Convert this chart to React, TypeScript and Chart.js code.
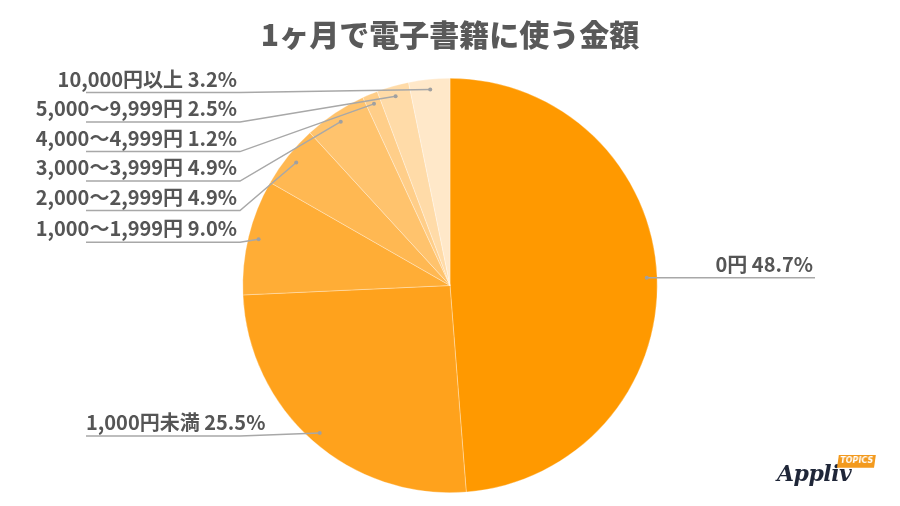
import React, { useEffect, useRef } from "react";
import { Chart, registerables } from "chart.js";

Chart.register(...registerables);

const TITLE = "1ヶ月で電子書籍に使う金額";
const categories = [
  "0円",
  "1,000円未満",
  "1,000〜1,999円",
  "2,000〜2,999円",
  "3,000〜3,999円",
  "4,000〜4,999円",
  "5,000〜9,999円",
  "10,000円以上",
];
const values = [48.7, 25.5, 9.0, 4.9, 4.9, 1.2, 2.5, 3.2];
const colors = [
  "#FF9900",
  "#FFA21C",
  "#FFAD36",
  "#FFB852",
  "#FFC36D",
  "#FFCE89",
  "#FFDBA8",
  "#FFE8C9",
];

const FONT = '"Noto Sans CJK JP", "Noto Sans", sans-serif';

const labelPlugin = {
  id: "pieLabels",
  afterDatasetsDraw(chart: any) {
    const ctx = chart.ctx;
    const meta = chart.getDatasetMeta(0);
    const items: any[] = [];
    let cy = 0;
    meta.data.forEach((arc: any, i: number) => {
      const p = arc.getProps(["x", "y", "startAngle", "endAngle", "outerRadius"], true);
      cy = p.y;
      const mid = (p.startAngle + p.endAngle) / 2;
      const r = p.outerRadius * 0.95;
      const ax = p.x + Math.cos(mid) * r;
      const ay = p.y + Math.sin(mid) * r;
      items.push({
        i,
        ax,
        ay,
        side: Math.cos(mid) >= 0 ? "right" : "left",
        text: `${categories[i]} ${values[i].toFixed(1)}%`,
      });
    });
    const left = items.filter((d) => d.side === "left").sort((a, b) => a.ay - b.ay);
    const right = items.filter((d) => d.side === "right").sort((a, b) => a.ay - b.ay);
    const gap = 29.5;
    let prev = -Infinity;
    left.forEach((d) => {
      d.ly = Math.max(d.ay + 3, prev + gap);
      prev = d.ly;
    });
    prev = -Infinity;
    right.forEach((d) => {
      d.ly = Math.max(d.ay, prev + gap);
      prev = d.ly;
    });

    ctx.save();
    ctx.strokeStyle = "#a8a8a8";
    ctx.lineWidth = 1.5;
    ctx.font = `bold 20px ${FONT}`;
    const leftStart = 86;
    const leftElbow = 240;
    const rightEnd = 815;
    for (const d of left) {
      ctx.beginPath();
      ctx.moveTo(d.ax, d.ay);
      if (d.ax > leftElbow) ctx.lineTo(leftElbow, d.ly);
      ctx.lineTo(leftStart, d.ly);
      ctx.stroke();
      ctx.beginPath();
      ctx.arc(d.ax, d.ay, 2, 0, Math.PI * 2);
      ctx.fillStyle = "#a0a0a0";
      ctx.fill();
      ctx.fillStyle = "#555555";
      ctx.textBaseline = "alphabetic";
      if (d.ay > cy) {
        ctx.textAlign = "left";
        ctx.fillText(d.text, leftStart, d.ly - 6);
      } else {
        ctx.textAlign = "right";
        ctx.fillText(d.text, leftElbow - 3, d.ly - 6);
      }
    }
    for (const d of right) {
      ctx.beginPath();
      ctx.moveTo(d.ax, d.ay);
      ctx.lineTo(d.ax + 10, d.ly);
      ctx.lineTo(rightEnd, d.ly);
      ctx.stroke();
      ctx.beginPath();
      ctx.arc(d.ax, d.ay, 2, 0, Math.PI * 2);
      ctx.fillStyle = "#a0a0a0";
      ctx.fill();
      ctx.fillStyle = "#555555";
      ctx.textAlign = "right";
      ctx.textBaseline = "alphabetic";
      ctx.fillText(d.text, rightEnd - 2, d.ly - 6);
    }
    // title
    ctx.fillStyle = "#595959";
    ctx.font = `900 30px ${FONT}`;
    ctx.textAlign = "center";
    ctx.textBaseline = "middle";
    ctx.fillText(TITLE, chart.width / 2, 35);
    ctx.restore();
  },
};

export default function App() {
  const ref = useRef<HTMLCanvasElement | null>(null);
  useEffect(() => {
    document.body.style.margin = "0";
    const chart = new Chart(ref.current as HTMLCanvasElement, {
      type: "pie",
      data: {
        labels: categories,
        datasets: [
          {
            data: values,
            backgroundColor: colors,
            borderColor: "rgba(255,255,255,0.6)",
            borderWidth: 0.5,
          },
        ],
      },
      options: {
        responsive: false,
        animation: false,
        layout: { padding: { top: 78, bottom: 13, left: 0, right: 0 } },
        plugins: {
          legend: { display: false },
          tooltip: { enabled: false },
          title: { display: false },
        },
      },
      plugins: [labelPlugin],
    });
    return () => chart.destroy();
  }, []);

  return (
    <div style={{ position: "relative", width: 900, height: 506, background: "#fff" }}>
      <canvas ref={ref} width={900} height={506} style={{ display: "block" }} />
      <div
        style={{
          position: "absolute",
          left: 777,
          top: 458,
          fontFamily: '"DejaVu Serif", serif',
          fontStyle: "italic",
          fontWeight: "bold",
          fontSize: 22,
          color: "#1f2638",
          lineHeight: "30px",
          letterSpacing: -0.5,
        }}
      >
        Appliv
      </div>
      <div
        style={{
          position: "absolute",
          left: 838,
          top: 455,
          width: 37,
          height: 12,
          background: "#F39A1E",
          color: "#fff",
          fontFamily: '"DejaVu Sans", sans-serif',
          fontWeight: "bold",
          fontSize: 8,
          lineHeight: "12px",
          textAlign: "center",
          transform: "skewX(-8deg)",
        }}
      >
        TOPICS
      </div>
    </div>
  );
}
